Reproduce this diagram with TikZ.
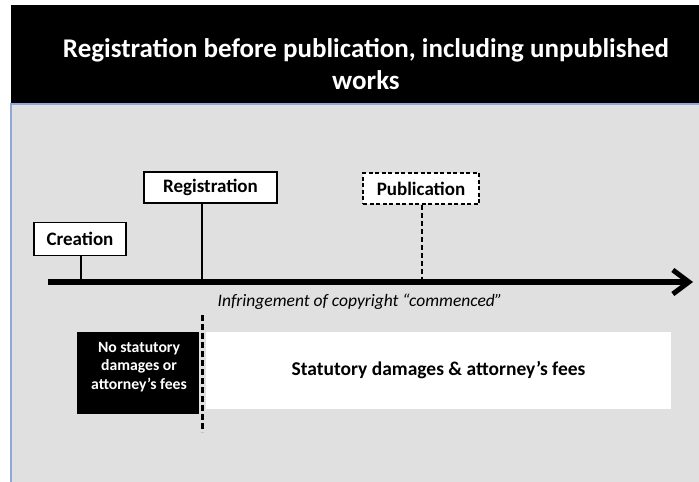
\documentclass[tikz,border=0pt]{standalone}
\usepackage{fontspec}
\setmainfont{Carlito}
\usetikzlibrary{arrows.meta, positioning}

\definecolor{panelgray}{HTML}{E0E0E0}
\definecolor{panelblue}{HTML}{8EA9D8}

\begin{document}
\begin{tikzpicture}[x=1pt,y=-1pt,
 event node/.style={rectangle,draw,line width=1.3pt,fill=white,inner sep=0pt,
   font=\bfseries\fontsize{19}{22}\selectfont},
 tick/.style={line width=1.5pt},
 span node/.style={rectangle,inner sep=0pt,align=center}]

  \useasboundingbox (0,0) rectangle (699,482);

  % header and panel
  \fill[black] (11,5) rectangle (699,104);
  \fill[panelgray] (11,104) rectangle (699,482);
  \draw[panelblue,line width=1.2pt] (11,482) -- (11,104) -- (699,104);
  \node[text=white,align=center,font=\bfseries\fontsize{27}{32}\selectfont] (title) at (366,64)
    {Registration before publication, including unpublished\\works};

  % time line
  \coordinate (start) at (48,282);
  \coordinate (end) at (693,282);
  \draw[line width=6pt,-{Straight Barb[length=16pt,width=24pt,line width=5pt]}] (start) -- (end);

  \node[event node,minimum width=92pt,minimum height=33pt] (creation) at (80,239) {Creation};
  \node[event node,minimum width=133pt,minimum height=31pt] (registration) at (210.5,187.5) {Registration};
  \node[event node,dashed,dash pattern=on 4pt off 2.5pt,minimum width=116pt,minimum height=31pt] (publication) at (421,188.5) {Publication};

  \coordinate (c tick) at (81,282);
  \coordinate (r tick) at (202,282);
  \coordinate (p tick) at (422,282);
  \draw[tick] (c tick |- creation.south) -- (c tick);
  \draw[tick] (r tick |- registration.south) -- (r tick);
  \draw[tick,dash pattern=on 5pt off 3pt] (p tick |- publication.south) -- (p tick);

  \node[font=\itshape\fontsize{17.5}{20}\selectfont] (infringe) at (360,302)
    {Infringement of copyright “commenced”};

  % damages
  \fill[black] (77,332) rectangle (199,414);
  \node[span node,text=white,font=\bfseries\fontsize{15.7}{18.5}\selectfont] (no fees) at (139,367)
    {No statutory\\damages or\\attorney’s fees};
  \node[span node,fill=white,minimum width=465pt,minimum height=77pt,
    font=\bfseries\fontsize{19.5}{22}\selectfont] (fees) at (438.5,370.5)
    {Statutory damages \& attorney’s fees};

  \coordinate (cut top) at (202,315);
  \coordinate (cut bottom) at (202,432);
  \draw[line width=3pt,dash pattern=on 6pt off 3pt] (cut top) -- (cut bottom);
\end{tikzpicture}
\end{document}
